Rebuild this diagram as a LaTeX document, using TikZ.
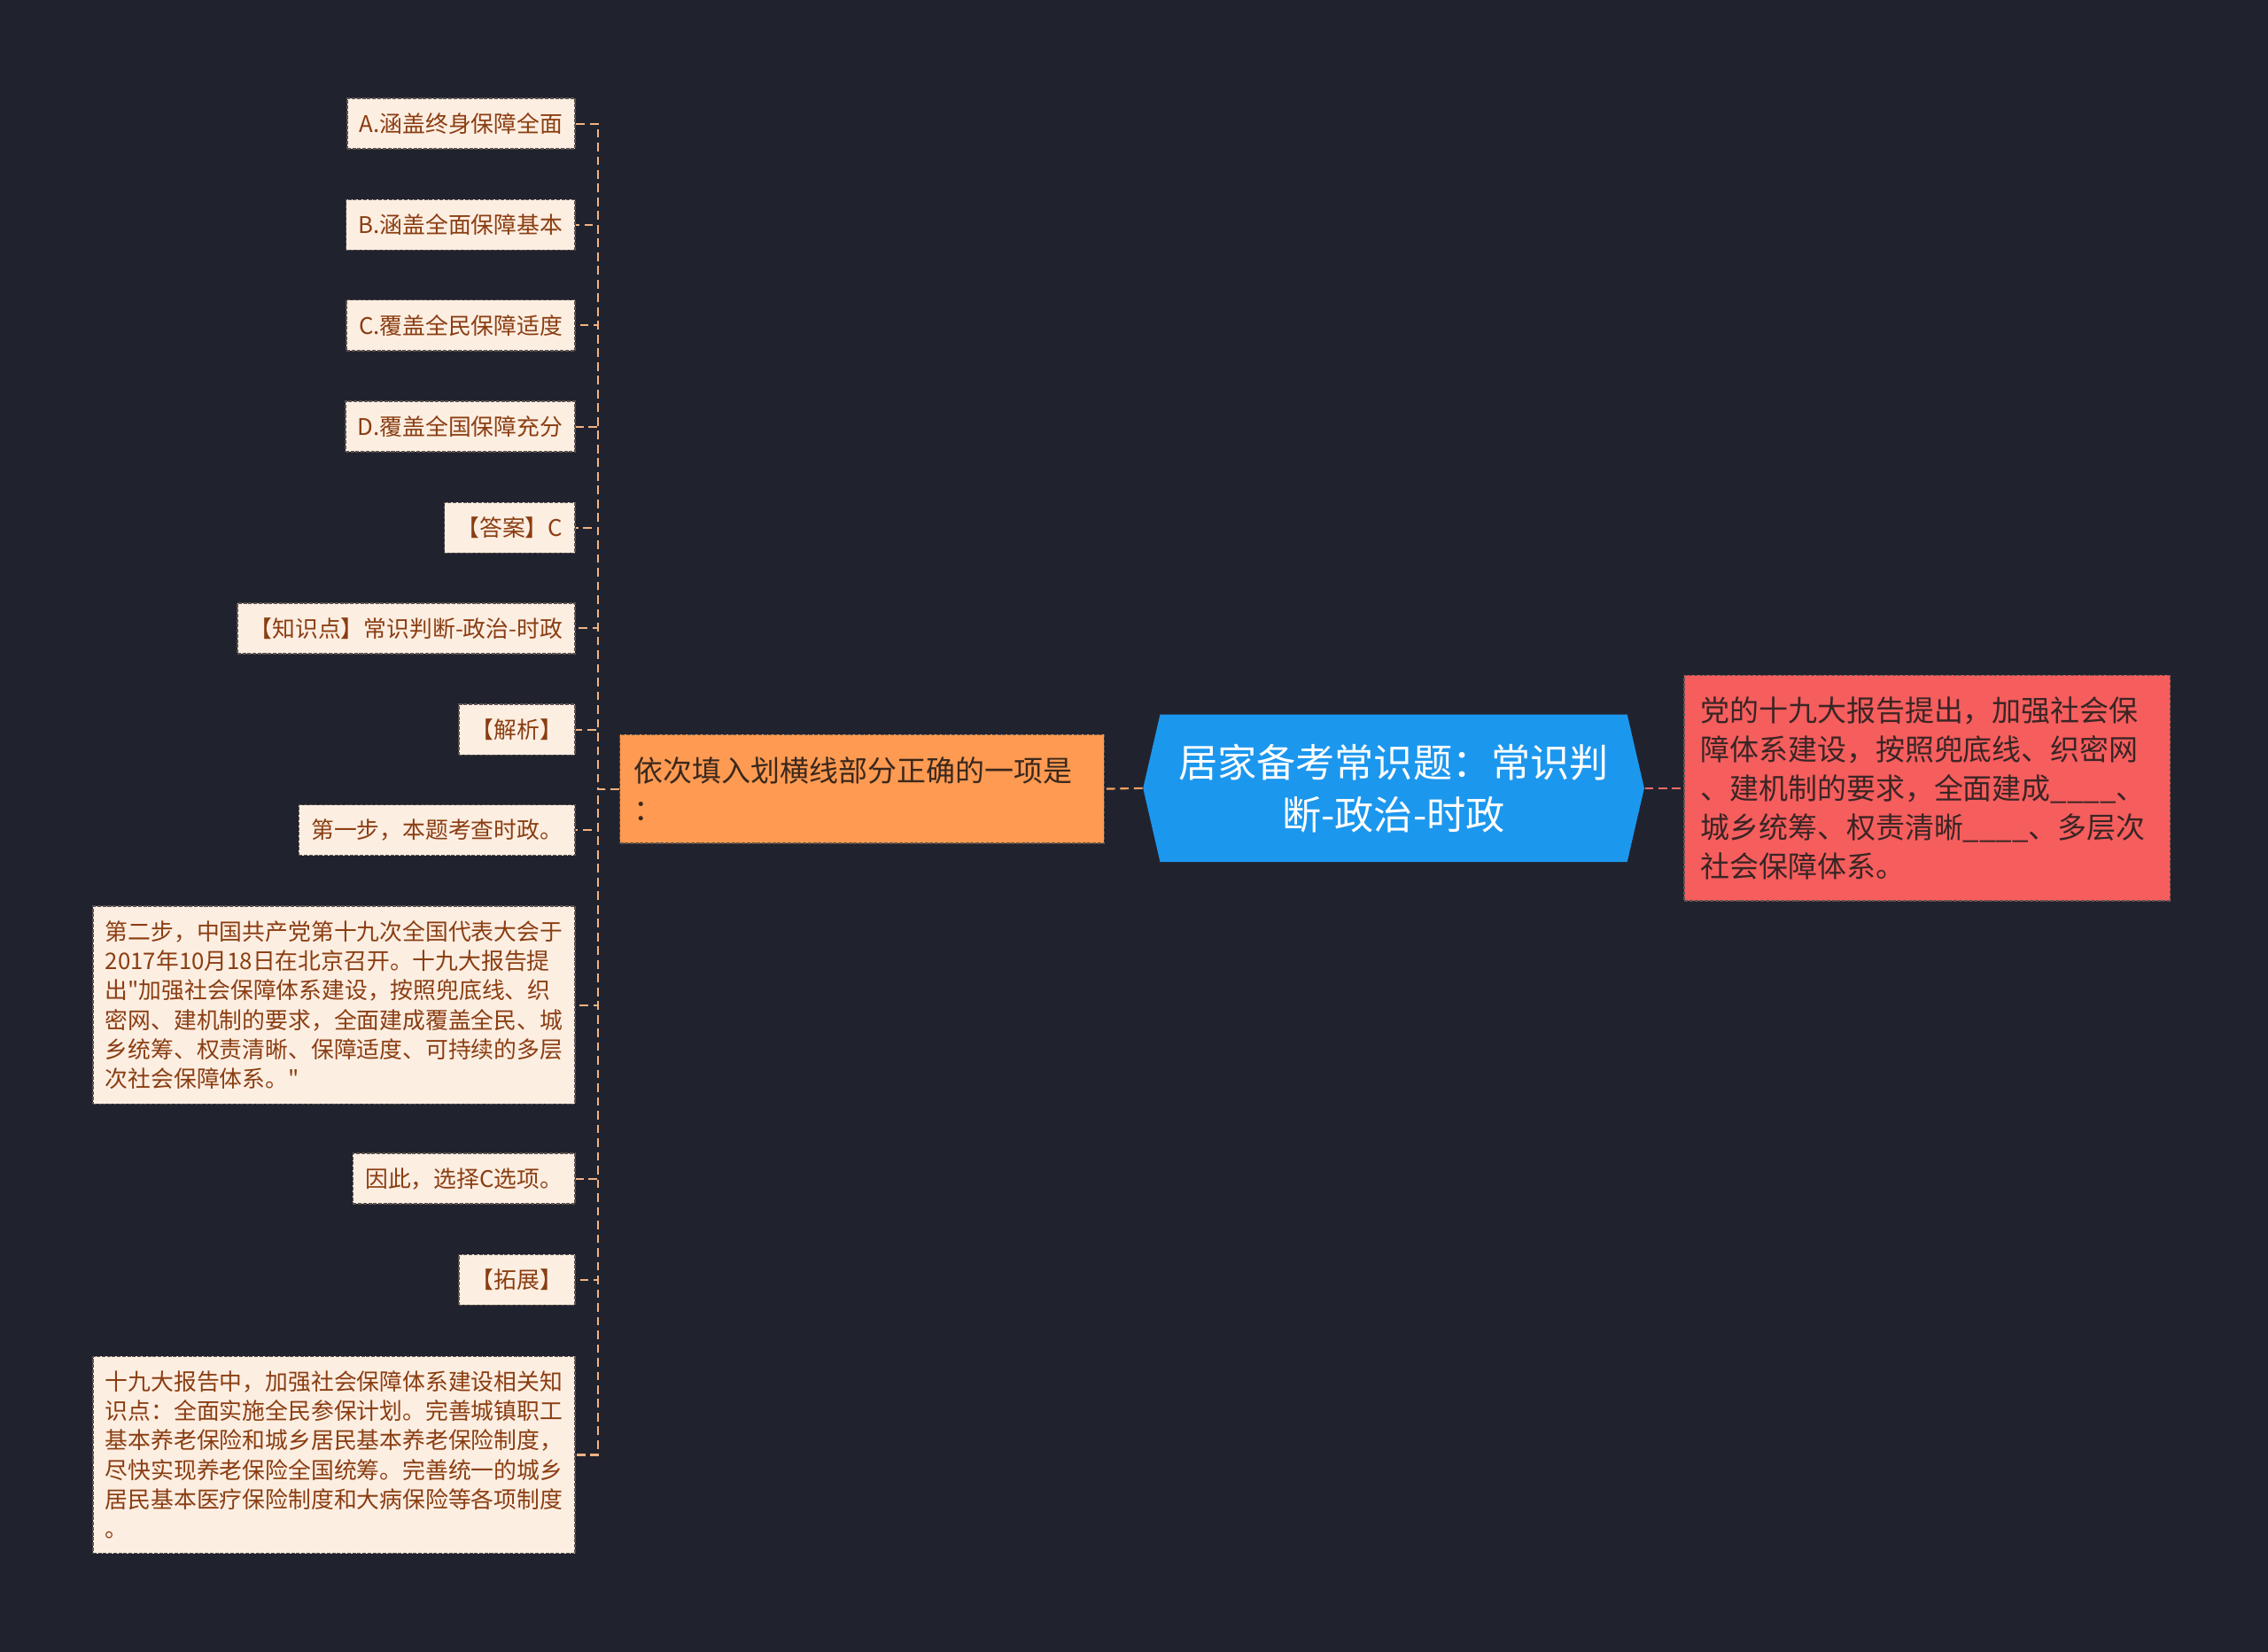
\documentclass[tikz,border=0pt]{standalone}
\usepackage{fontspec}
\setmainfont{Noto Sans CJK SC}
\usetikzlibrary{shapes.symbols}
\definecolor{bgnavy}{HTML}{20232E}
\definecolor{leaffill}{HTML}{FDEEE2}
\definecolor{leaftext}{HTML}{8A3E12}
\definecolor{leafedge}{HTML}{5C5350}
\definecolor{linkpeach}{HTML}{F2B283}
\definecolor{questfill}{HTML}{FE9A52}
\definecolor{questtext}{HTML}{3A281C}
\definecolor{rootblue}{HTML}{1C97EE}
\definecolor{answerred}{HTML}{F65D5D}
\definecolor{answertext}{HTML}{3A2525}
\definecolor{linkorange}{HTML}{F5A063}
\definecolor{linkred}{HTML}{F06A6A}
\tikzset{
  boxEdge/.style={dash pattern=on 1.4pt off 0.6pt, line width=0.5pt},
  leafBox/.style={boxEdge, draw=leafedge, fill=leaffill, text=leaftext, anchor=east, align=left,
    font=\fontsize{9pt}{11.6pt}\selectfont, inner xsep=0.17cm, inner ysep=0.2cm, minimum height=0.7cm},
  questBox/.style={boxEdge, draw=questtext!80, fill=questfill, text=questtext, anchor=west, align=left,
    font=\fontsize{11.5pt}{15.3pt}\selectfont, text width=6.3cm, inner xsep=0.2cm, minimum height=1.5cm},
  answerBox/.style={boxEdge, draw=answertext!80, fill=answerred, text=answertext, anchor=west, align=left,
    font=\fontsize{11.5pt}{15.3pt}\selectfont, text width=6.28cm, inner xsep=0.22cm, minimum height=3.12cm},
  rootBox/.style={shape=signal, signal to=east and west, signal pointer angle=154, fill=rootblue, text=white,
    align=center, font=\fontsize{15.4pt}{20.5pt}\selectfont, text width=6.1cm, inner xsep=0.18cm, minimum height=2.04cm},
  linkLine/.style={line width=0.75pt, dash pattern=on 3.4pt off 2pt}
}
\begin{document}
\begin{tikzpicture}[x=0.02cm,y=-0.02cm]
  \fill[bgnavy] (0,0) rectangle (1568,1142);
  \useasboundingbox (0,0) rectangle (1568,1142);
  % centre and right
  \node[rootBox] (root) at (963.5,545) {居家备考常识题：常识判\\断-政治-时政};
  \node[answerBox] (answer) at (1164,545) {党的十九大报告提出，加强社会保\\障体系建设，按照兜底线、织密网\\、建机制的要求，全面建成\_\_\_\_、\\城乡统筹、权责清晰\_\_\_\_、多层次\\社会保障体系。};
  \node[questBox] (quest) at (428,545.5) {依次填入划横线部分正确的一项是\\：};
  % left leaves
  \node[leafBox] (optA) at (398,85.5) {A.涵盖终身保障全面};
  \node[leafBox] (optB) at (398,155.5) {B.涵盖全面保障基本};
  \node[leafBox] (optC) at (398,225) {C.覆盖全民保障适度};
  \node[leafBox] (optD) at (398,295) {D.覆盖全国保障充分};
  \node[leafBox] (key) at (398,365) {【答案】C};
  \node[leafBox] (topic) at (398,434.5) {【知识点】常识判断-政治-时政};
  \node[leafBox] (expl) at (398,504.5) {【解析】};
  \node[leafBox] (stepOne) at (398,574) {第一步，本题考查时政。};
  \node[leafBox] (stepTwo) at (398,695) {第二步，中国共产党第十九次全国代表大会于\\2017年10月18日在北京召开。十九大报告提\\出\textquotedbl 加强社会保障体系建设，按照兜底线、织\\密网、建机制的要求，全面建成覆盖全民、城\\乡统筹、权责清晰、保障适度、可持续的多层\\次社会保障体系。\textquotedbl};
  \node[leafBox] (pick) at (398,815) {因此，选择C选项。};
  \node[leafBox] (ext) at (398,885) {【拓展】};
  \node[leafBox] (extText) at (398,1006) {十九大报告中，加强社会保障体系建设相关知\\识点：全面实施全民参保计划。完善城镇职工\\基本养老保险和城乡居民基本养老保险制度，\\尽快实现养老保险全国统筹。完善统一的城乡\\居民基本医疗保险制度和大病保险等各项制度\\。};
  % connectors
  \coordinate (trunk) at (413.5,545.5);
  \draw[linkLine, draw=linkorange] (root.west) -- (quest.east);
  \draw[linkLine, draw=linkred] (root.east) -- (answer.west);
  \foreach \n in {optA,optB,optC,optD,key,topic,expl,stepOne,stepTwo,pick,ext,extText}
    \draw[linkLine, draw=linkpeach] (quest.west) -- (trunk) |- (\n.east);
\end{tikzpicture}
\end{document}
